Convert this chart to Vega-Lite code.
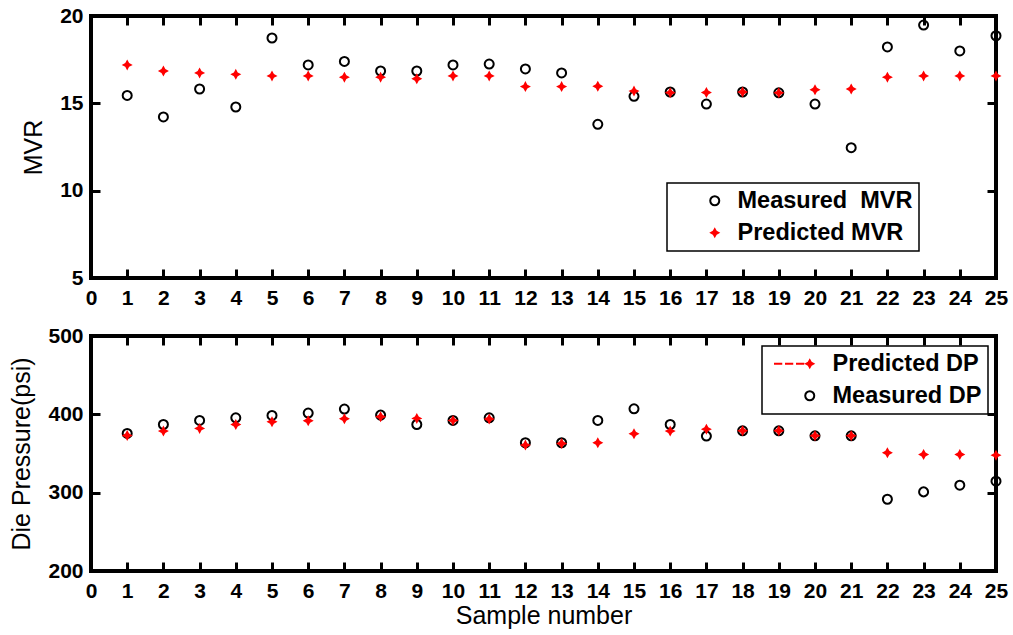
{
  "$schema": "https://vega.github.io/schema/vega-lite/v6.json",
  "background": "white",
  "padding": {"left": 7, "top": 3, "right": 5, "bottom": 2},
  "config": {
    "font": "Liberation Sans",
    "view": {"stroke": "black", "strokeWidth": 4},
    "axis": {
      "domain": false, "grid": false, "ticks": true,
      "tickColor": "black", "tickWidth": 3, "tickSize": -9,
      "labelFont": "Liberation Sans", "labelFontWeight": "bold", "labelFontSize": 21,
      "labelColor": "black", "labelFlush": false, "labelOverlap": false,
      "titleFont": "Liberation Sans", "titleFontWeight": "normal", "titleFontSize": 25,
      "titleColor": "black"
    },
    "axisX": {"labelPadding": 18},
    "axisY": {"labelPadding": 17},
    "legend": {
      "labelFont": "Liberation Sans", "labelFontWeight": "bold", "labelFontSize": 23.5,
      "labelColor": "black", "labelLimit": 0, "strokeColor": "black", "strokeWidth": 1.5, "fillColor": "white",
      "padding": 6, "symbolSize": 121, "symbolStrokeWidth": 2, "rowPadding": 7,
      "labelOffset": 11, "symbolOffset": 30
    }
  },
  "datasets": {
    "mvr": [
      {"sample": 1, "series": "Measured MVR", "value": 15.45},
      {"sample": 2, "series": "Measured MVR", "value": 14.22},
      {"sample": 3, "series": "Measured MVR", "value": 15.82},
      {"sample": 4, "series": "Measured MVR", "value": 14.79},
      {"sample": 5, "series": "Measured MVR", "value": 18.74},
      {"sample": 6, "series": "Measured MVR", "value": 17.2},
      {"sample": 7, "series": "Measured MVR", "value": 17.4},
      {"sample": 8, "series": "Measured MVR", "value": 16.85},
      {"sample": 9, "series": "Measured MVR", "value": 16.85},
      {"sample": 10, "series": "Measured MVR", "value": 17.2},
      {"sample": 11, "series": "Measured MVR", "value": 17.25},
      {"sample": 12, "series": "Measured MVR", "value": 16.97},
      {"sample": 13, "series": "Measured MVR", "value": 16.74},
      {"sample": 14, "series": "Measured MVR", "value": 13.8},
      {"sample": 15, "series": "Measured MVR", "value": 15.4},
      {"sample": 16, "series": "Measured MVR", "value": 15.65},
      {"sample": 17, "series": "Measured MVR", "value": 14.96},
      {"sample": 18, "series": "Measured MVR", "value": 15.65},
      {"sample": 19, "series": "Measured MVR", "value": 15.6},
      {"sample": 20, "series": "Measured MVR", "value": 14.96},
      {"sample": 21, "series": "Measured MVR", "value": 12.46},
      {"sample": 22, "series": "Measured MVR", "value": 18.23},
      {"sample": 23, "series": "Measured MVR", "value": 19.48},
      {"sample": 24, "series": "Measured MVR", "value": 18.0},
      {"sample": 25, "series": "Measured MVR", "value": 18.87},
      {"sample": 1, "series": "Predicted MVR", "value": 17.2},
      {"sample": 2, "series": "Predicted MVR", "value": 16.85},
      {"sample": 3, "series": "Predicted MVR", "value": 16.74},
      {"sample": 4, "series": "Predicted MVR", "value": 16.66},
      {"sample": 5, "series": "Predicted MVR", "value": 16.57},
      {"sample": 6, "series": "Predicted MVR", "value": 16.57},
      {"sample": 7, "series": "Predicted MVR", "value": 16.5},
      {"sample": 8, "series": "Predicted MVR", "value": 16.5},
      {"sample": 9, "series": "Predicted MVR", "value": 16.41},
      {"sample": 10, "series": "Predicted MVR", "value": 16.57},
      {"sample": 11, "series": "Predicted MVR", "value": 16.57},
      {"sample": 12, "series": "Predicted MVR", "value": 15.96},
      {"sample": 13, "series": "Predicted MVR", "value": 15.96},
      {"sample": 14, "series": "Predicted MVR", "value": 15.98},
      {"sample": 15, "series": "Predicted MVR", "value": 15.7},
      {"sample": 16, "series": "Predicted MVR", "value": 15.61},
      {"sample": 17, "series": "Predicted MVR", "value": 15.62},
      {"sample": 18, "series": "Predicted MVR", "value": 15.65},
      {"sample": 19, "series": "Predicted MVR", "value": 15.6},
      {"sample": 20, "series": "Predicted MVR", "value": 15.78},
      {"sample": 21, "series": "Predicted MVR", "value": 15.82},
      {"sample": 22, "series": "Predicted MVR", "value": 16.5},
      {"sample": 23, "series": "Predicted MVR", "value": 16.57},
      {"sample": 24, "series": "Predicted MVR", "value": 16.57},
      {"sample": 25, "series": "Predicted MVR", "value": 16.57}
    ],
    "dp": [
      {"sample": 1, "series": "Measured DP", "value": 375.6},
      {"sample": 2, "series": "Measured DP", "value": 387},
      {"sample": 3, "series": "Measured DP", "value": 392.2},
      {"sample": 4, "series": "Measured DP", "value": 395.6},
      {"sample": 5, "series": "Measured DP", "value": 398.6},
      {"sample": 6, "series": "Measured DP", "value": 401.6},
      {"sample": 7, "series": "Measured DP", "value": 406.7},
      {"sample": 8, "series": "Measured DP", "value": 399},
      {"sample": 9, "series": "Measured DP", "value": 387},
      {"sample": 10, "series": "Measured DP", "value": 392.2},
      {"sample": 11, "series": "Measured DP", "value": 395.6},
      {"sample": 12, "series": "Measured DP", "value": 363.7},
      {"sample": 13, "series": "Measured DP", "value": 363.7},
      {"sample": 14, "series": "Measured DP", "value": 392.2},
      {"sample": 15, "series": "Measured DP", "value": 407.1},
      {"sample": 16, "series": "Measured DP", "value": 387},
      {"sample": 17, "series": "Measured DP", "value": 372.2},
      {"sample": 18, "series": "Measured DP", "value": 379},
      {"sample": 19, "series": "Measured DP", "value": 379},
      {"sample": 20, "series": "Measured DP", "value": 372.6},
      {"sample": 21, "series": "Measured DP", "value": 372.6},
      {"sample": 22, "series": "Measured DP", "value": 291.6},
      {"sample": 23, "series": "Measured DP", "value": 301},
      {"sample": 24, "series": "Measured DP", "value": 309.5},
      {"sample": 25, "series": "Measured DP", "value": 314.7},
      {"sample": 1, "series": "Predicted DP", "value": 373},
      {"sample": 2, "series": "Predicted DP", "value": 378.6},
      {"sample": 3, "series": "Predicted DP", "value": 382},
      {"sample": 4, "series": "Predicted DP", "value": 387},
      {"sample": 5, "series": "Predicted DP", "value": 390.5},
      {"sample": 6, "series": "Predicted DP", "value": 391.8},
      {"sample": 7, "series": "Predicted DP", "value": 394.3},
      {"sample": 8, "series": "Predicted DP", "value": 396.9},
      {"sample": 9, "series": "Predicted DP", "value": 394.8},
      {"sample": 10, "series": "Predicted DP", "value": 392.2},
      {"sample": 11, "series": "Predicted DP", "value": 394},
      {"sample": 12, "series": "Predicted DP", "value": 360.7},
      {"sample": 13, "series": "Predicted DP", "value": 362.8},
      {"sample": 14, "series": "Predicted DP", "value": 363.7},
      {"sample": 15, "series": "Predicted DP", "value": 375.2},
      {"sample": 16, "series": "Predicted DP", "value": 378.6},
      {"sample": 17, "series": "Predicted DP", "value": 381.1},
      {"sample": 18, "series": "Predicted DP", "value": 379},
      {"sample": 19, "series": "Predicted DP", "value": 379},
      {"sample": 20, "series": "Predicted DP", "value": 372.6},
      {"sample": 21, "series": "Predicted DP", "value": 372.6},
      {"sample": 22, "series": "Predicted DP", "value": 350.9},
      {"sample": 23, "series": "Predicted DP", "value": 348.7},
      {"sample": 24, "series": "Predicted DP", "value": 348.7},
      {"sample": 25, "series": "Predicted DP", "value": 347.9}
    ]
  },
  "spacing": 13,
  "resolve": {"scale": {"fill": "independent", "stroke": "independent", "shape": "independent"}},
  "vconcat": [
    {
      "width": 905,
      "height": 262,
      "data": {"name": "mvr"},
      "resolve": {"axis": {"x": "independent", "y": "independent"}},
      "layer": [
        {
          "mark": {"type": "point", "filled": true, "strokeWidth": 2, "size": 121, "opacity": 1},
          "encoding": {
            "x": {"field": "sample", "type": "quantitative",
                  "scale": {"domain": [0, 25], "nice": false, "zero": false},
                  "axis": {"title": null,
                           "values": [0,1,2,3,4,5,6,7,8,9,10,11,12,13,14,15,16,17,18,19,20,21,22,23,24,25]}},
            "y": {"field": "value", "type": "quantitative",
                  "scale": {"domain": [5, 20], "nice": false, "zero": false},
                  "axis": {"title": "MVR", "titlePadding": 13, "values": [5, 10, 15, 20]}},
            "fill": {"field": "series", "type": "nominal",
                     "scale": {"domain": ["Measured MVR", "Predicted MVR"], "range": ["transparent", "red"]},
                     "legend": {"title": null, "orient": "none", "legendX": 576, "legendY": 167,
                                "labelExpr": "datum.label === 'Measured MVR' ? 'Measured\u00a0 MVR' : datum.label"}},
            "stroke": {"field": "series", "type": "nominal",
                       "scale": {"domain": ["Measured MVR", "Predicted MVR"], "range": ["black", "transparent"]},
                       "legend": {"title": null, "orient": "none", "legendX": 576, "legendY": 167,
                                  "labelExpr": "datum.label === 'Measured MVR' ? 'Measured\u00a0 MVR' : datum.label"}},
            "shape": {"field": "series", "type": "nominal",
                      "scale": {"domain": ["Measured MVR", "Predicted MVR"],
                                "range": ["M0.82,0A0.82,0.82 0 1,1 -0.82,0A0.82,0.82 0 1,1 0.82,0Z",
                                          "M0,-1L0.35,-0.35L1,0L0.35,0.35L0,1L-0.35,0.35L-1,0L-0.35,-0.35Z"]},
                      "legend": {"title": null, "orient": "none", "legendX": 576, "legendY": 167,
                                 "labelExpr": "datum.label === 'Measured MVR' ? 'Measured\u00a0 MVR' : datum.label"}}
          }
        },
        {
          "mark": {"type": "point", "opacity": 0},
          "encoding": {
            "x": {"field": "sample", "type": "quantitative",
                  "scale": {"domain": [0, 25], "nice": false, "zero": false},
                  "axis": {"orient": "top", "labels": false, "title": null,
                           "values": [0,1,2,3,4,5,6,7,8,9,10,11,12,13,14,15,16,17,18,19,20,21,22,23,24,25]}},
            "y": {"field": "value", "type": "quantitative",
                  "scale": {"domain": [5, 20], "nice": false, "zero": false},
                  "axis": {"orient": "right", "labels": false, "title": null, "values": [5, 10, 15, 20]}}
          }
        }
      ]
    },
    {
      "width": 905,
      "height": 235,
      "data": {"name": "dp"},
      "resolve": {"axis": {"x": "independent", "y": "independent"}},
      "layer": [
        {
          "transform": [{"filter": "datum.series === 'Measured DP'"}],
          "mark": {"type": "point", "filled": false, "stroke": "black", "strokeWidth": 2, "size": 121, "opacity": 1,
                   "shape": "M0.82,0A0.82,0.82 0 1,1 -0.82,0A0.82,0.82 0 1,1 0.82,0Z"},
          "encoding": {
            "x": {"field": "sample", "type": "quantitative",
                  "scale": {"domain": [0, 25], "nice": false, "zero": false},
                  "axis": {"title": "Sample number", "titlePadding": 2,
                           "values": [0,1,2,3,4,5,6,7,8,9,10,11,12,13,14,15,16,17,18,19,20,21,22,23,24,25]}},
            "y": {"field": "value", "type": "quantitative",
                  "scale": {"domain": [200, 500], "nice": false, "zero": false},
                  "axis": {"title": "Die Pressure(psi)", "titlePadding": 13, "values": [200, 300, 400, 500]}}
          }
        },
        {
          "transform": [{"filter": "datum.series === 'Predicted DP'"}],
          "mark": {"type": "point", "filled": true, "fill": "red", "size": 121, "opacity": 1,
                   "shape": "M0,-1L0.35,-0.35L1,0L0.35,0.35L0,1L-0.35,0.35L-1,0L-0.35,-0.35Z"},
          "encoding": {
            "x": {"field": "sample", "type": "quantitative", "axis": null},
            "y": {"field": "value", "type": "quantitative", "axis": null}
          }
        },
        {
          "transform": [{"filter": "datum.sample < 0"}],
          "mark": {"type": "point", "filled": true, "strokeWidth": 2, "size": 121, "opacity": 1},
          "encoding": {
            "x": {"field": "sample", "type": "quantitative", "axis": null},
            "y": {"field": "value", "type": "quantitative", "axis": null},
            "fill": {"field": "series", "type": "nominal",
                     "scale": {"domain": ["Predicted DP", "Measured DP"], "range": ["red", "transparent"]},
                     "legend": {"title": null, "orient": "none", "legendX": 671, "legendY": 10}},
            "stroke": {"field": "series", "type": "nominal",
                       "scale": {"domain": ["Predicted DP", "Measured DP"], "range": ["transparent", "black"]},
                       "legend": {"title": null, "orient": "none", "legendX": 671, "legendY": 10}},
            "shape": {"field": "series", "type": "nominal",
                      "scale": {"domain": ["Predicted DP", "Measured DP"],
                                "range": ["M-6.5,-0.18H-5V0.18H-6.5Z M-4.5,-0.18H-3V0.18H-4.5Z M-2.5,-0.18H-1V0.18H-2.5Z M0,-1L0.35,-0.35L1,0L0.35,0.35L0,1L-0.35,0.35L-1,0L-0.35,-0.35Z",
                                          "M0.82,0A0.82,0.82 0 1,1 -0.82,0A0.82,0.82 0 1,1 0.82,0Z"]},
                      "legend": {"title": null, "orient": "none", "legendX": 671, "legendY": 10}}
          }
        },
        {
          "mark": {"type": "point", "opacity": 0},
          "encoding": {
            "x": {"field": "sample", "type": "quantitative",
                  "scale": {"domain": [0, 25], "nice": false, "zero": false},
                  "axis": {"orient": "top", "labels": false, "title": null,
                           "values": [0,1,2,3,4,5,6,7,8,9,10,11,12,13,14,15,16,17,18,19,20,21,22,23,24,25]}},
            "y": {"field": "value", "type": "quantitative",
                  "scale": {"domain": [200, 500], "nice": false, "zero": false},
                  "axis": {"orient": "right", "labels": false, "title": null, "values": [200, 300, 400, 500]}}
          }
        }
      ]
    }
  ]
}
